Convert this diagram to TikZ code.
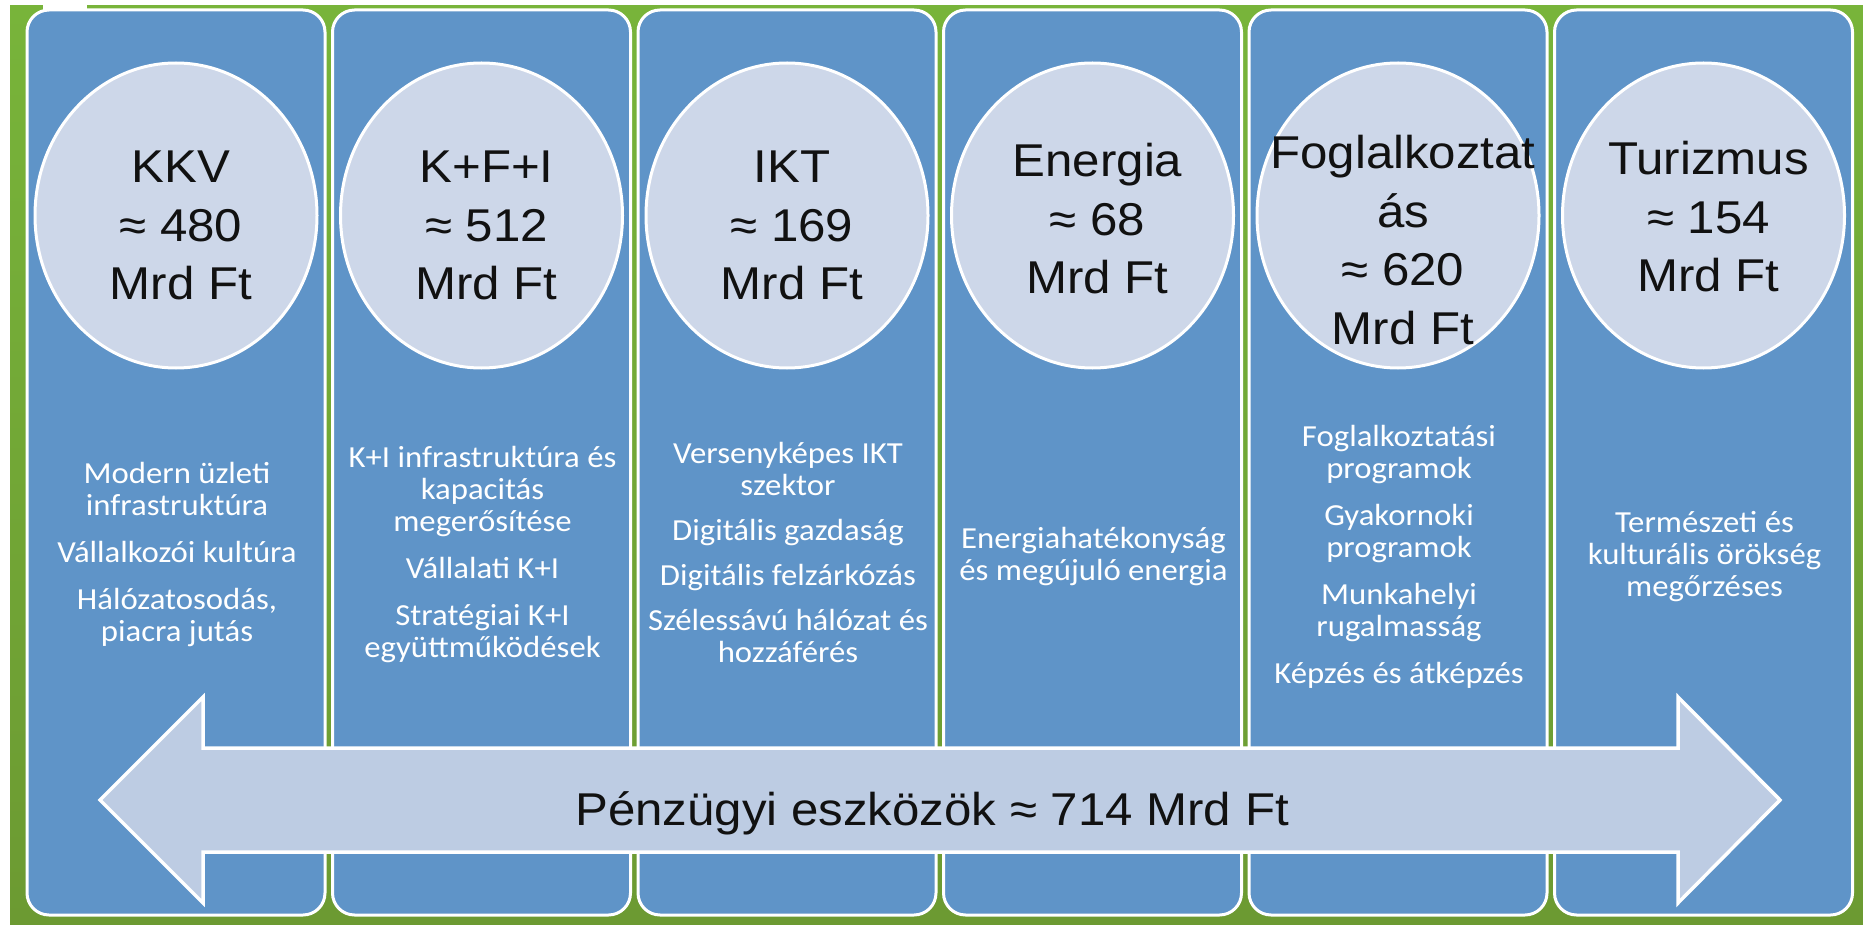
\documentclass[tikz,border=0pt]{standalone}
\usepackage{fontspec}
\setmainfont{Liberation Sans}
\newfontfamily\carlito{Carlito}
\usetikzlibrary{shapes.geometric}
\definecolor{bggreen}{HTML}{78B43A}
\definecolor{bggreendark}{HTML}{6C9A32}
\definecolor{colblue}{HTML}{5F94C8}
\definecolor{circfill}{HTML}{CDD7E9}
\definecolor{arrowfill}{HTML}{BDCCE3}
\definecolor{txtdark}{HTML}{111111}
\tikzset{
  column/.style={draw=white, line width=3pt, fill=colblue, rounded corners=22pt,
    minimum width=298pt, minimum height=905pt, inner sep=0pt},
  bubble/.style={ellipse, draw=white, line width=3pt, fill=circfill,
    minimum width=282pt, minimum height=305pt, inner sep=0pt},
  bubbletext/.style={font=\fontsize{46}{58.5}\selectfont, align=center, anchor=base,
    inner sep=0pt, xscale=1.07, text=txtdark},
  itemtext/.style={font=\carlito\fontsize{30.6}{32}\selectfont, align=center, anchor=base,
    inner sep=0pt, xscale=1.07, text=white},
  bigarrow/.style={draw=white, line width=3.5pt, fill=arrowfill, line join=miter},
}
\begin{document}
\begin{tikzpicture}[x=1pt, y=-1pt]
\useasboundingbox (0,0) rectangle (1863,925);
\fill[white] (0,0) rectangle (1863,925);
\shade[top color=bggreen, bottom color=bggreendark] (10,6) rectangle (1863,925);
\fill[white] (43,0) rectangle (87,12);

% columns
\node[column] (col1) at (176,462.5) {};
\node[column] (col2) at (481.5,462.5) {};
\node[column] (col3) at (787,462.5) {};
\node[column] (col4) at (1092.5,462.5) {};
\node[column] (col5) at (1398,462.5) {};
\node[column] (col6) at (1703.5,462.5) {};

% bubbles
\node[bubble] (b1) at (176,215.5) {};
\node[bubble] (b2) at (481.5,215.5) {};
\node[bubble] (b3) at (787,215.5) {};
\node[bubble] (b4) at (1092.5,215.5) {};
\node[bubble] (b5) at (1398,215.5) {};
\node[bubble] (b6) at (1703.5,215.5) {};

% bubble texts (anchor = baseline of the last line)
\node[bubbletext] (t1) at (181,300) {KKV\\≈ 480\\Mrd Ft};
\node[bubbletext] (t2) at (486.5,300) {K+F+I\\≈ 512\\Mrd Ft};
\node[bubbletext] (t3) at (792,300) {IKT\\≈ 169\\Mrd Ft};
\node[bubbletext] (t4) at (1097.5,294) {Energia\\≈ 68\\Mrd Ft};
\node[bubbletext] (t5) at (1403,344) {Foglalkoztat\\ás\\≈ 620\\Mrd Ft};
\node[bubbletext] (t6) at (1708.5,292) {Turizmus\\≈ 154\\Mrd Ft};

% item texts (anchor = baseline of the last line)
\node[itemtext] (i1) at (177,641) {Modern üzleti\\infrastruktúra\\[15pt]Vállalkozói kultúra\\[15pt]Hálózatosodás,\\piacra jutás};
\node[itemtext] (i2) at (482.5,657) {K+I infrastruktúra és\\kapacitás\\megerősítése\\[15pt]Vállalati K+I\\[15pt]Stratégiai K+I\\együttműködések};
\node[itemtext] (i3) at (788,662) {Versenyképes IKT\\szektor\\[13pt]Digitális gazdaság\\[13pt]Digitális felzárkózás\\[13pt]Szélessávú hálózat és\\hozzáférés};
\node[itemtext] (i4) at (1093.5,580) {Energiahatékonyság\\és megújuló energia};
\node[itemtext] (i5) at (1399,683) {Foglalkoztatási\\programok\\[15pt]Gyakornoki\\programok\\[15pt]Munkahelyi\\rugalmasság\\[15pt]Képzés és átképzés};
\node[itemtext] (i6) at (1704.5,596) {Természeti és\\kulturális örökség\\megőrzéses};

% double arrow
\draw[bigarrow] (100,800) -- (203,697) -- (203,748) -- (1678,748) -- (1678,697)
  -- (1780,800) -- (1678,903) -- (1678,852) -- (203,852) -- (203,903) -- cycle;
\node[bubbletext] (arrowlabel) at (932,825) {Pénzügyi eszközök ≈ 714 Mrd Ft};
\end{tikzpicture}
\end{document}
